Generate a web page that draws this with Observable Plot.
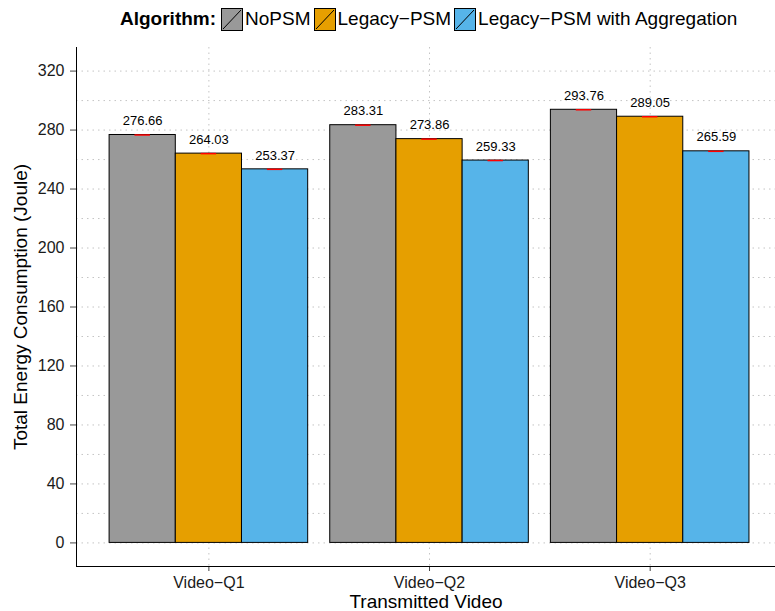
<!DOCTYPE html>
<html><head><meta charset="utf-8">
<script src="https://cdn.jsdelivr.net/npm/d3@7"></script>
<script src="https://cdn.jsdelivr.net/npm/@observablehq/plot@0.6"></script>
<style>
body{margin:0;background:#fff;font-family:"Liberation Sans",Arial,Helvetica,sans-serif;}
#legend{height:38px;display:flex;align-items:center;padding-left:120px;font-size:19px;color:#000;box-sizing:border-box;}
#legend .title{font-weight:bold;margin-right:5px;}
#legend .item{display:flex;align-items:center;margin-right:3px;}
#legend svg{display:block;margin-right:2px;}
</style></head>
<body><div id="legend"></div><div id="chart"></div>
<script>
// ---- data ----
const videos = ["Video−Q1", "Video−Q2", "Video−Q3"];
const algorithms = ["NoPSM", "Legacy−PSM", "Legacy−PSM with Aggregation"];
const colors = ["#999999", "#E69F00", "#56B4E9"];
const energyNoPSM = [276.66, 283.31, 293.76];
const energyLegacy = [264.03, 273.86, 289.05];
const energyAggregation = [253.37, 259.33, 265.59];
const yTicks = [0, 40, 80, 120, 160, 200, 240, 280, 320];
const yMinorTicks = [20, 60, 100, 140, 180, 220, 260, 300];
const yDomain = [-16, 336];
const xDomain = [0.4, 3.568];
const legendTitle = "Algorithm:";
const xTitle = "Transmitted Video";
const yTitle = "Total Energy Consumption (Joule)";

// dodge layout (like ggplot position_dodge, group width 0.9)
const groupWidth = 0.9;
const barWidth = groupWidth / algorithms.length;
const errWidth = 0.07;
const series = [energyNoPSM, energyLegacy, energyAggregation];
const data = videos.flatMap((v, i) => algorithms.map((a, j) => {
  const x1 = (i + 1) - groupWidth / 2 + j * barWidth;
  return {video: v, algorithm: a, energy: series[j][i], x1, x2: x1 + barWidth, xc: x1 + barWidth / 2};
}));
const videoPos = videos.map((v, i) => i + 1);

// ---- legend ----
const legend = document.getElementById("legend");
const t = document.createElement("span"); t.className = "title"; t.textContent = legendTitle; legend.appendChild(t);
algorithms.forEach((a, j) => {
  const it = document.createElement("span"); it.className = "item";
  it.innerHTML = `<svg width="22" height="23"><rect x="0.5" y="0.5" width="21" height="22" fill="${colors[j]}" stroke="#000" stroke-width="1"/><line x1="2" y1="21" x2="20" y2="2" stroke="#000" stroke-width="1"/></svg><span>${a}</span>`;
  legend.appendChild(it);
});

// ---- chart ----
const legendH = 38;
const gridStyle = {stroke: "#c4c4c4", strokeOpacity: 1, strokeDasharray: "1.5,4", strokeWidth: 1};
const chart = Plot.plot({
  width: 775, height: 611 - legendH,
  marginLeft: 76, marginRight: 0, marginTop: 47 - legendH, marginBottom: 45,
  style: {fontFamily: '"Liberation Sans", Arial, Helvetica, sans-serif', fontSize: "16px", background: "white", color: "#1a1a1a", overflow: "visible"},
  x: {type: "linear", domain: xDomain},
  y: {domain: yDomain},
  color: {domain: algorithms, range: colors},
  marks: [
    Plot.gridY(yMinorTicks, gridStyle),
    Plot.gridY(yTicks, gridStyle),
    Plot.gridX(videoPos, gridStyle),
    Plot.rectY(data, {x1: "x1", x2: "x2", y: "energy", fill: "algorithm", stroke: "black", strokeWidth: 1}),
    Plot.ruleY(data, {x1: d => d.xc - errWidth / 2, x2: d => d.xc + errWidth / 2, y: "energy", stroke: "red", strokeWidth: 1.5}),
    Plot.text(data, {x: "xc", y: "energy", text: d => d.energy.toFixed(2), dy: -14, fontSize: 13, fill: "black"}),
    Plot.axisY(yTicks, {tickSize: 6, tickPadding: 6, fontSize: 16, label: null, stroke: "#444"}),
    Plot.axisX(videoPos, {tickSize: 5, tickPadding: 5, fontSize: 16, label: null, stroke: "#444", tickFormat: d => videos[d - 1]}),
    Plot.frame({anchor: "left", stroke: "black"}),
    Plot.frame({anchor: "bottom", stroke: "black"}),
    Plot.text([yTitle], {frameAnchor: "left", textAnchor: "middle", lineAnchor: "middle", rotate: -90, dx: -56, fontSize: 19, fill: "black"}),
    Plot.text([xTitle], {frameAnchor: "bottom", textAnchor: "middle", lineAnchor: "middle", dy: 35, fontSize: 19, fill: "black"})
  ]
});
document.getElementById("chart").appendChild(chart);
</script>
</body></html>
